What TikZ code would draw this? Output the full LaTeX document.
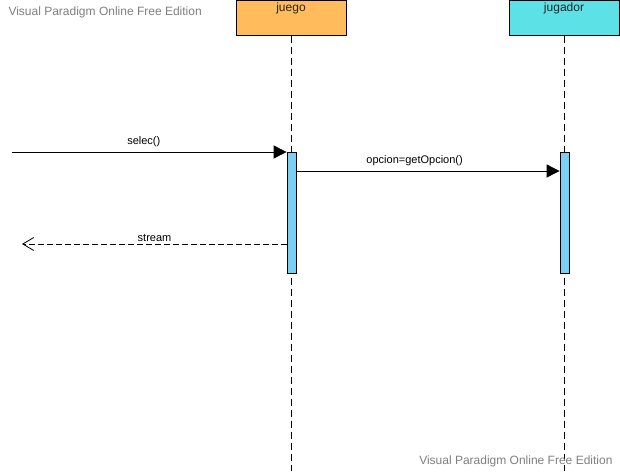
\documentclass[tikz,border=0pt]{standalone}
\usepackage{fontspec}
\setmainfont{Liberation Sans}
\usetikzlibrary{arrows.meta}
\usetikzlibrary{positioning}
\definecolor{juegoorange}{HTML}{FFBB5C}
\definecolor{jugadorcyan}{HTML}{5CE1E6}
\definecolor{actblue}{HTML}{7ACFF5}
\definecolor{wmgray}{HTML}{7F7F7F}
\tikzset{>=latex}
\tikzstyle{lifebox} = [rectangle, draw=black, line width=1pt, minimum width=110pt, minimum height=35pt, inner sep=0]
\tikzstyle{lifeline} = [-, draw=black, line width=0.8pt, dash pattern=on 7pt off 4pt]
\tikzstyle{actbar} = [rectangle, draw=black, fill=actblue, line width=0.8pt, minimum width=9pt, minimum height=121pt, inner sep=0]
\tikzstyle{msgcall} = [-{Triangle[length=13pt,width=13pt]}, line width=0.8pt]
\tikzstyle{msgreturn} = [-{Straight Barb[length=11pt,width=13pt,line width=0.8pt]}, line width=0.8pt, dash pattern=on 6pt off 3pt]
\tikzstyle{msglabel} = [draw=none, inner sep=2pt, font=\fontsize{11}{13}\selectfont]
\begin{document}
\begin{tikzpicture}[x=1pt, y=-1pt]
\useasboundingbox (0,0) rectangle (620,471);
% watermarks
\node [draw=none, anchor=west, text=wmgray, font=\fontsize{12}{14}\selectfont] (wmtop) at (5, 12) {Visual Paradigm Online Free Edition};
% lifelines
\node [lifebox, fill=juegoorange] (juego) at (291, 17.5) {};
\node [lifebox, fill=jugadorcyan] (jugador) at (564, 17.5) {};
\node [draw=none, font=\fontsize{12}{14}\selectfont, text=black!85] (juegoname) at (291, 8) {juego};
\node [draw=none, font=\fontsize{12}{14}\selectfont, text=black!85] (jugadorname) at (564, 8) {jugador};
\coordinate (juegoEnd) at (291, 471);
\coordinate (jugadorEnd) at (564, 471);
\draw [lifeline] (juego.south) to (juegoEnd);
\draw [lifeline] (jugador.south) to (jugadorEnd);
\node [draw=none, anchor=east, text=wmgray, font=\fontsize{12}{14}\selectfont] (wmbottom) at (616, 461) {Visual Paradigm Online Free Edition};
% activations
\node [actbar] (actJuego) at (291.5, 212.5) {};
\node [actbar] (actJugador) at (564.5, 212.5) {};
% messages
\coordinate (selecStart) at (12, 152);
\coordinate (opcionStart) at (296, 171);
\coordinate (streamStart) at (287, 244);
\coordinate (streamEnd) at (22, 244);
\draw [msgcall] (selecStart) to node[msglabel, pos=0.48, above=3pt] {selec()} (actJuego.west |- selecStart);
\draw [msgcall] (opcionStart) to node[msglabel, pos=0.45, above=3pt] {opcion=getOpcion()} (actJugador.west |- opcionStart);
\draw [msgreturn] (streamStart) to node[msglabel, pos=0.5, above=0pt] {stream} (streamEnd);
\end{tikzpicture}
\end{document}
